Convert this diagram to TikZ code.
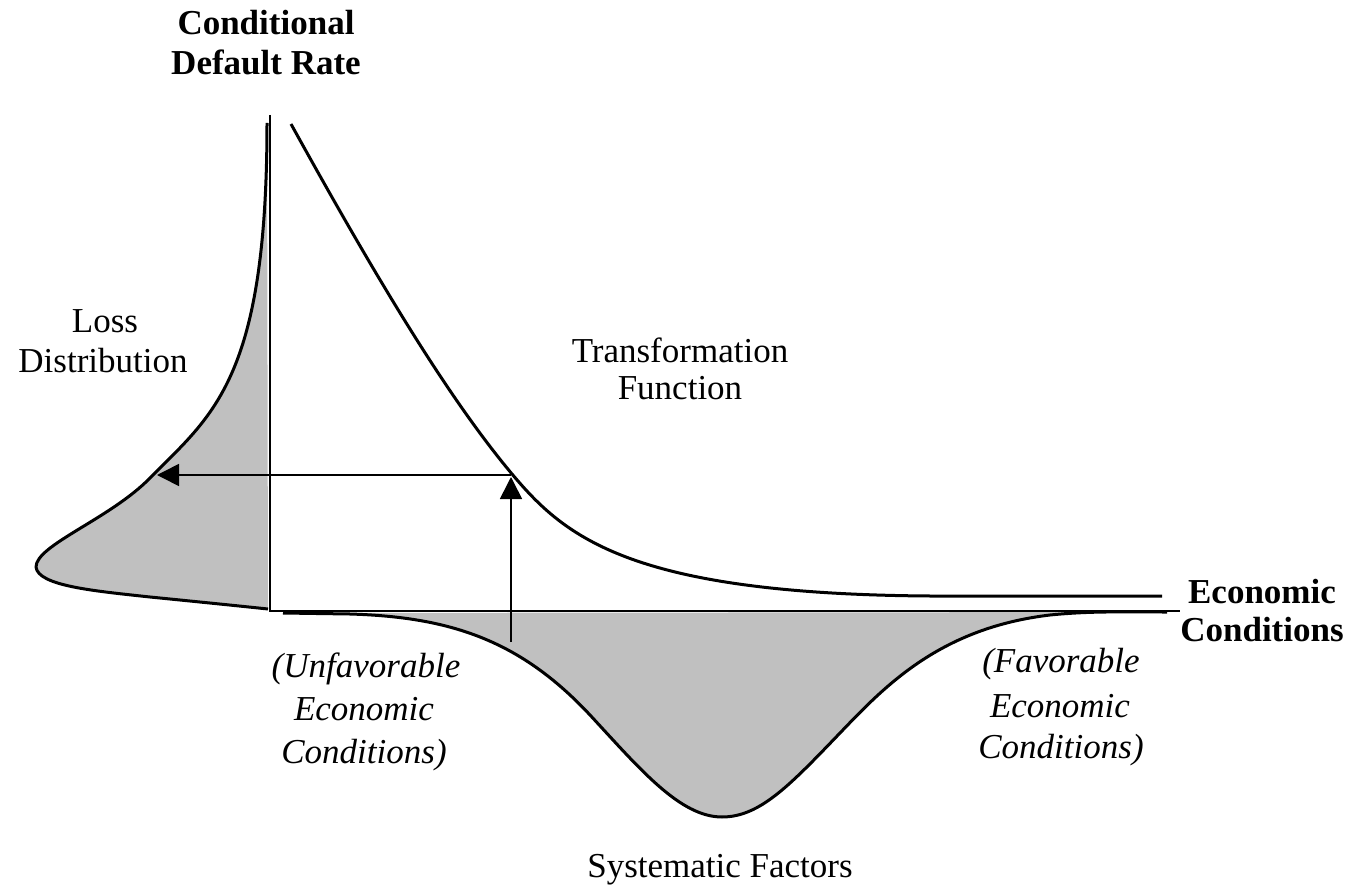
\documentclass[tikz,border=0pt]{standalone}
\usepackage{fontspec}
\setmainfont{Liberation Serif}
\usetikzlibrary{arrows.meta}
\definecolor{fillgray}{RGB}{192,192,192}
\tikzset{
  lbl/.style={anchor=base, inner sep=0pt, font=\fontsize{35}{41}\selectfont},
  blbl/.style={lbl, font=\fontsize{35}{41}\selectfont\bfseries},
  ilbl/.style={lbl, font=\fontsize{35}{41}\selectfont\itshape},
  axisline/.style={line width=2pt},
  curveline/.style={line width=3pt, line join=round},
  arrowline/.style={line width=1.6pt, -{Triangle[length=22pt,width=22pt]}},
}
\begin{document}
\begin{tikzpicture}[x=1pt,y=-1pt]
\useasboundingbox (0,0) rectangle (1353,888);
% coordinates
\coordinate (origin) at (270,611);
\coordinate (ytop) at (270,115);
\coordinate (xend) at (1180,611);
\coordinate (tf) at (511,475);
\coordinate (tfarr) at (511,477);
\coordinate (sf) at (511,642);
\coordinate (ld) at (157,475);
% loss distribution fill
\fill[fillgray] (267,123) .. controls (267,380) and (212,415) .. (150,478)
  .. controls (110,519) and (36,545) .. (36,567)
  .. controls (38,586) and (95,591) .. (150,597)
  .. controls (190,601) and (230,605) .. (268,609) -- cycle;
% systematic factors fill
\fill[fillgray] (283,613) -- (350,614)
  .. controls (450,617) and (520,640) .. (590,715)
  .. controls (640,769) and (680,817) .. (722,817)
  .. controls (760,817) and (790,785) .. (840,733)
  .. controls (885,686) and (940,628) .. (1050,615)
  .. controls (1090,611) and (1120,612) .. (1167,612) -- cycle;
% axes
\draw[axisline] (ytop) -- (origin) -- (xend);
% loss distribution curve
\draw[curveline] (267,123) .. controls (267,380) and (212,415) .. (150,478)
  .. controls (110,519) and (36,545) .. (36,567)
  .. controls (38,586) and (95,591) .. (150,597)
  .. controls (190,601) and (230,605) .. (268,609);
% systematic factors curve
\draw[curveline] (283,613) -- (350,614)
  .. controls (450,617) and (520,640) .. (590,715)
  .. controls (640,769) and (680,817) .. (722,817)
  .. controls (760,817) and (790,785) .. (840,733)
  .. controls (885,686) and (940,628) .. (1050,615)
  .. controls (1090,611) and (1120,612) .. (1167,612);
% transformation function
\draw[curveline] (291,124) .. controls (380,285) and (450,400) .. (512,474)
  .. controls (565,537) and (630,594) .. (930,596) -- (1162,596);
% arrows
\draw[arrowline] (sf) -- (tfarr);
\draw[arrowline] (tf) -- (ld);
% labels
\node[blbl] (cdr1) at (266,35) {Conditional};
\node[blbl] (cdr2) at (266,75) {Default Rate};
\node[lbl] (ld1) at (105,332) {Loss};
\node[lbl] (ld2) at (103,372) {Distribution};
\node[lbl] (tr1) at (680,362) {Transformation};
\node[lbl] (tr2) at (680,399) {Function};
\node[blbl] (ec1) at (1262,603) {Economic};
\node[blbl] (ec2) at (1262,641) {Conditions};
\node[ilbl] (un1) at (366,677) {(Unfavorable};
\node[ilbl] (un2) at (364,720) {Economic};
\node[ilbl] (un3) at (364,763) {Conditions)};
\node[ilbl] (fa1) at (1061,672) {(Favorable};
\node[ilbl] (fa2) at (1060,717) {Economic};
\node[ilbl] (fa3) at (1061,758) {Conditions)};
\node[lbl] (sys) at (720,877) {Systematic Factors};
\end{tikzpicture}
\end{document}
